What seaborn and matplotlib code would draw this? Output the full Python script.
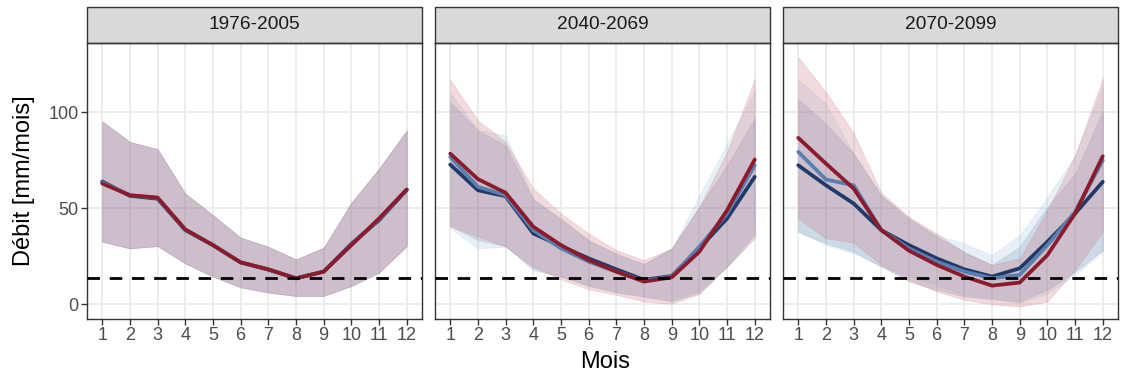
import numpy as np
import pandas as pd
import matplotlib
matplotlib.use("Agg")
from matplotlib import pyplot as plt
from matplotlib.patches import Rectangle
import seaborn as sns

months = list(range(1, 13))
periods = ["1976-2005", "2040-2069", "2070-2099"]
scenarios = ["navy", "steel", "red"]

# median lines, one list per period and scenario
hist_navy = [64.0, 56.5, 55.0, 38.6, 30.8, 21.8, 18.0, 13.5, 17.0, 31.5, 43.8, 59.6]
hist_steel = [63.5, 56.8, 55.4, 38.8, 30.8, 21.8, 18.2, 13.5, 17.0, 31.0, 44.3, 59.8]
hist_red = [62.9, 56.8, 55.6, 39.0, 30.8, 21.8, 18.2, 13.5, 17.0, 30.8, 44.7, 59.8]

mid_navy = [72.8, 59.4, 56.3, 36.9, 30.3, 23.9, 18.2, 12.7, 14.7, 29.1, 44.7, 66.4]
mid_steel = [76.8, 61.2, 56.8, 38.6, 29.1, 22.2, 17.0, 12.1, 14.4, 30.0, 47.3, 72.4]
mid_red = [78.5, 65.2, 58.1, 40.4, 30.8, 23.0, 17.0, 11.8, 14.0, 27.4, 49.0, 75.4]

end_navy = [72.4, 62.0, 52.5, 38.6, 30.8, 23.9, 18.2, 14.4, 18.7, 32.6, 47.3, 63.8]
end_steel = [79.4, 65.0, 62.0, 38.6, 29.1, 22.2, 17.0, 13.5, 15.3, 30.8, 48.2, 75.0]
end_red = [86.7, 73.3, 60.3, 38.6, 27.9, 20.5, 14.4, 9.7, 11.3, 25.6, 47.3, 77.1]

# ribbon bounds
hist_lo = [32.6, 29.1, 30.3, 21.3, 14.4, 8.8, 6.1, 4.3, 4.3, 9.5, 16.5, 30.3]
hist_hi = [95.3, 84.6, 80.8, 57.7, 46.4, 34.7, 30.0, 23.4, 29.5, 52.9, 70.7, 90.6]

mid_navy_lo = [40.7, 33.4, 30.3, 17.9, 14.4, 9.5, 6.1, 4.0, 1.4, 6.1, 19.6, 36.9]
mid_navy_hi = [105.4, 90.6, 82.8, 54.6, 44.7, 33.4, 26.5, 21.0, 29.1, 50.8, 72.4, 97.1]
mid_steel_lo = [39.5, 29.1, 30.0, 18.7, 14.4, 10.0, 6.6, 4.0, 2.3, 7.5, 19.6, 35.2]
mid_steel_hi = [110.0, 91.0, 88.0, 55.0, 43.8, 33.4, 25.6, 21.0, 29.0, 56.8, 83.7, 111.4]
mid_red_lo = [40.7, 35.2, 30.0, 19.6, 13.0, 7.8, 4.9, 1.4, 0.2, 5.4, 19.6, 34.3]
mid_red_hi = [117.0, 95.8, 84.6, 60.3, 47.3, 36.9, 28.2, 23.0, 29.1, 50.8, 79.4, 117.5]

end_navy_lo = [37.8, 31.7, 27.4, 19.6, 11.8, 7.5, 4.0, 2.6, 1.4, 7.5, 17.0, 28.2]
end_navy_hi = [107.0, 94.0, 78.5, 56.8, 44.7, 35.2, 27.4, 20.5, 30.0, 50.8, 68.1, 101.0]
end_steel_lo = [37.8, 30.8, 26.5, 19.6, 14.4, 10.0, 4.9, 3.1, 0.5, 5.7, 15.3, 27.4]
end_steel_hi = [117.0, 104.5, 78.5, 56.3, 44.7, 36.0, 31.7, 25.6, 36.0, 56.0, 77.6, 114.0]
end_red_lo = [44.7, 34.3, 32.1, 20.5, 12.7, 6.6, 2.3, 0.0, -1.2, 1.4, 17.9, 37.8]
end_red_hi = [128.8, 110.6, 89.3, 58.1, 45.6, 36.9, 26.9, 20.5, 23.9, 49.0, 77.6, 118.0]

threshold = 13.5

lines = {
    "1976-2005": [hist_navy, hist_steel, hist_red],
    "2040-2069": [mid_navy, mid_steel, mid_red],
    "2070-2099": [end_navy, end_steel, end_red],
}
ribbons = {
    "1976-2005": [(hist_lo, hist_hi), (hist_lo, hist_hi), (hist_lo, hist_hi)],
    "2040-2069": [(mid_navy_lo, mid_navy_hi), (mid_steel_lo, mid_steel_hi), (mid_red_lo, mid_red_hi)],
    "2070-2099": [(end_navy_lo, end_navy_hi), (end_steel_lo, end_steel_hi), (end_red_lo, end_red_hi)],
}

line_cols = {"navy": "#1f3a68", "steel": "#5a7eb0", "red": "#8c1a2b"}
fill_cols = {"navy": "#4a6590", "steel": "#8fb8d8", "red": "#cc6c74"}
fill_alpha = {"navy": 0.19, "steel": 0.2, "red": 0.24}

rows = []
for p in periods:
    for s, vals in zip(scenarios, lines[p]):
        for m, v in zip(months, vals):
            rows.append({"period": p, "scenario": s, "Mois": m, "Debit": v})
df = pd.DataFrame(rows)

sns.set_theme(style="white")
plt.rcParams["font.family"] = ["Liberation Sans", "DejaVu Sans"]

fig, axes = plt.subplots(1, 3, figsize=(11.22, 3.75), dpi=100, sharey=True)
fig.subplots_adjust(left=87 / 1122, right=1118 / 1122, top=1 - 43.3 / 375,
                    bottom=1 - 319 / 375, wspace=0.039)

for ax, p in zip(axes, periods):
    ax.set_axisbelow(True)
    ax.grid(True, color="#ebebeb", linewidth=1.3)
    for s, (lo, hi) in zip(scenarios, ribbons[p]):
        ax.fill_between(months, lo, hi, color=fill_cols[s], alpha=fill_alpha[s],
                        linewidth=0.5, edgecolor=fill_cols[s])
    sns.lineplot(data=df[df["period"] == p], x="Mois", y="Debit", hue="scenario",
                 hue_order=scenarios, palette=line_cols, linewidth=2.7,
                 legend=False, ax=ax, zorder=5)
    ax.axhline(threshold, color="black", linewidth=2, dashes=(4.5, 3.5), zorder=6)
    ax.set_xlim(0.45, 12.55)
    ax.set_ylim(-7.7, 136)
    ax.set_xticks(months)
    ax.set_yticks([0, 50, 100])
    ax.set_xlabel("")
    ax.set_ylabel("")
    for sp in ax.spines.values():
        sp.set_color("#333333")
        sp.set_linewidth(1)
    ax.tick_params(axis="both", which="major", length=4, width=1, color="#333333",
                   labelsize=13, labelcolor="#4d4d4d", direction="out",
                   bottom=True, left=True, pad=2)
    # facet strip
    ax.add_patch(Rectangle((0, 1), 1, 0.133, transform=ax.transAxes, clip_on=False,
                           facecolor="#d9d9d9", edgecolor="#333333", linewidth=1))
    ax.text(0.5, 1.0665, p, transform=ax.transAxes, ha="center", va="center",
            fontsize=13.8, color="#1a1a1a")

for ax in axes[1:]:
    ax.tick_params(axis="y", left=False, labelleft=False)

fig.text(24 / 1122, 1 - 181 / 375, "Débit [mm/mois]", rotation=90, ha="center",
         va="center", fontsize=17, color="black")
fig.text(0.5 * (437 + 774) / 1122, 1 - 362 / 375, "Mois", ha="center", va="center",
         fontsize=17, color="black")

fig.savefig("out.png", dpi=100)
